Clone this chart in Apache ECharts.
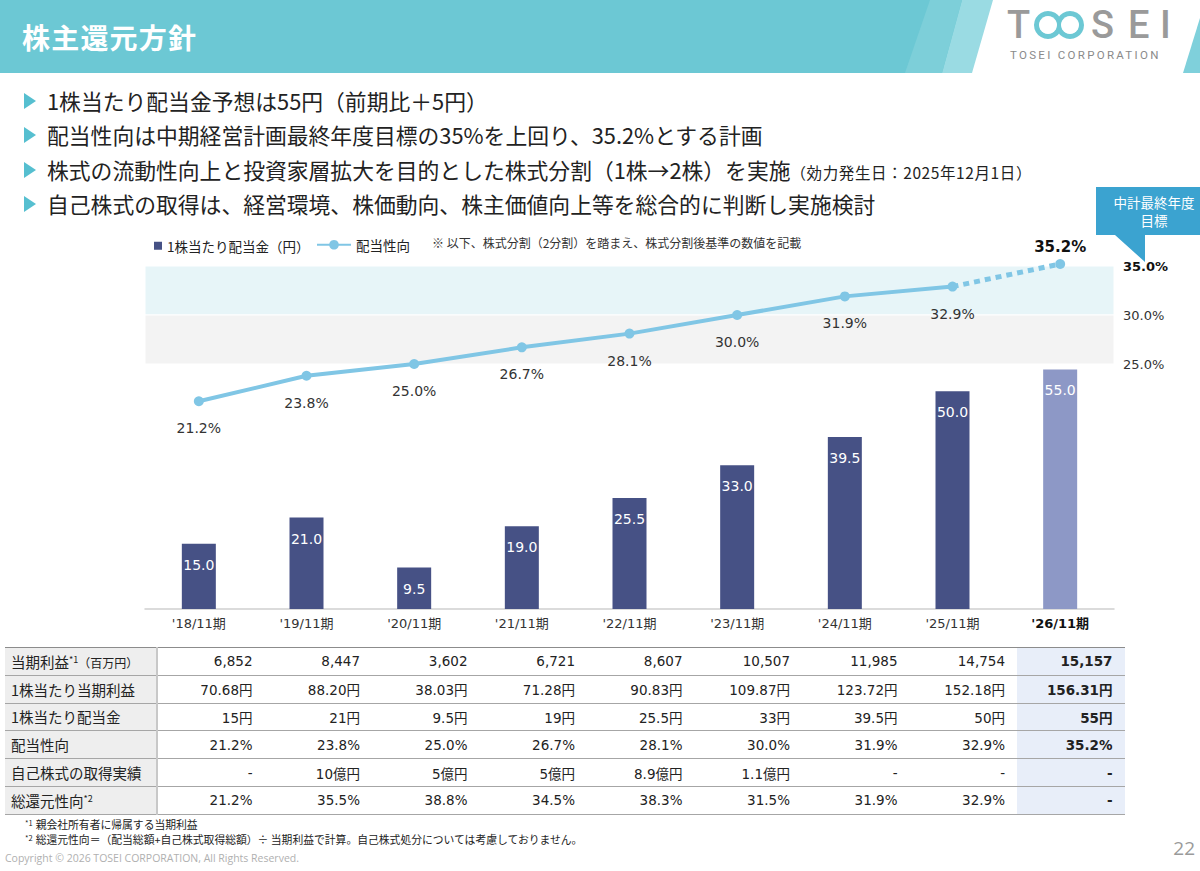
<!DOCTYPE html>
<html>
<head>
<meta charset="utf-8">
<script src="https://cdn.jsdelivr.net/npm/echarts@6/dist/echarts.min.js"></script>
<style>
  html, body { margin: 0; padding: 0; background: #fff; }
  body { width: 1200px; height: 871px; position: relative; overflow: hidden;
         font-family: 'Noto Sans CJK JP', sans-serif; color: #222; }
  #container { position: absolute; left: 0; top: 0; width: 1200px; height: 871px; z-index: 0; }
  .over { position: absolute; z-index: 1; }
  #title { left: 22px; top: 17px; font-size: 28px; font-weight: bold; color: #fff; line-height: 40px; letter-spacing: 1.2px; }
  .logo { top: 3px; line-height: normal; font-size: 38px; font-weight: 500; color: #9a9a9a; font-family: Roboto, sans-serif; }
  #corp { left: 1010px; top: 48px; font-size: 11.5px; color: #8a8a8a; letter-spacing: 2.3px; font-family: Roboto, sans-serif; line-height: normal; }
  #bullets { left: 24px; top: 84px; margin: 0; padding: 0; list-style: none; }
  #bullets li { position: relative; height: 34.3px; line-height: 34px; font-size: 21.8px; padding-left: 23px; white-space: nowrap; }
  #bullets li:before { content: ''; position: absolute; left: 0; top: 9px;
         border-left: 12px solid #56bfd0; border-top: 8px solid transparent; border-bottom: 8px solid transparent; }
  #bullets small { font-size: 15.5px; letter-spacing: 0.6px; }
  #table { left: 5px; top: 647px; border-collapse: collapse; table-layout: fixed; }
  #table td { height: 26.8px; padding: 0; border-top: 1px solid #a6a6a6; border-bottom: 1px solid #a6a6a6;
         font-family: 'DejaVu Sans', 'Noto Sans CJK JP', sans-serif; font-size: 13.5px; text-align: right;
         padding-right: 12px; white-space: nowrap; }
  #table tr:first-child td { border-top: 1.5px solid #8c8c8c; }
  #table td.lab { background: #eeeeee; text-align: left; padding-left: 6px; padding-right: 0;
         font-family: 'Noto Sans CJK JP', sans-serif; font-size: 14.5px; border-right: 2px solid #c8c8c8; }
  #table td.last { background: #e8eef9; font-weight: bold; }
  #table sup { font-size: 9px; vertical-align: 5px; line-height: 0; }
  #table .unit { font-size: 12px; }
  #notes { left: 25px; top: 817px; font-size: 10.8px; line-height: 15px; color: #222; }
  #notes sup { font-size: 7.5px; vertical-align: 3px; line-height: 0; margin-right: 3px; }
  #copy { left: 5px; top: 851px; font-size: 10.5px; color: #b0b0b0; font-family: 'Open Sans', sans-serif; }
  #page { right: 5px; top: 835px; font-size: 19px; color: #9a9a9a; font-family: 'Open Sans', sans-serif; }
</style>
</head>
<body>
<div id="container"></div>
<div id="title" class="over">株主還元方針</div>
<div class="over logo" style="left:1007px">T</div>
<div class="over logo" style="left:1091px">S</div>
<div class="over logo" style="left:1128px">E</div>
<div class="over logo" style="left:1160px">I</div>
<div id="corp" class="over">TOSEI CORPORATION</div>
<ul id="bullets" class="over">
  <li>1株当たり配当金予想は55円（前期比＋5円）</li>
  <li>配当性向は中期経営計画最終年度目標の35%を上回り、35.2%とする計画</li>
  <li>株式の流動性向上と投資家層拡大を目的とした株式分割（1株→2株）を実施<small>（効力発生日：2025年12月1日）</small></li>
  <li>自己株式の取得は、経営環境、株価動向、株主価値向上等を総合的に判断し実施検討</li>
</ul>
<table id="table" class="over"></table>
<div id="notes" class="over">
  <div><sup>*1</sup>親会社所有者に帰属する当期利益</div>
  <div><sup>*2</sup>総還元性向＝（配当総額+自己株式取得総額）÷ 当期利益で計算。自己株式処分については考慮しておりません。</div>
</div>
<div id="copy" class="over">Copyright © 2026 TOSEI CORPORATION, All Rights Reserved.</div>
<div id="page" class="over">22</div>

<script>
// chart data
var categories = ["'18/11期", "'19/11期", "'20/11期", "'21/11期", "'22/11期", "'23/11期", "'24/11期", "'25/11期", "'26/11期"];
var dividend = [15.0, 21.0, 9.5, 19.0, 25.5, 33.0, 39.5, 50.0, 55.0];
var payoutRatio = [21.2, 23.8, 25.0, 26.7, 28.1, 30.0, 31.9, 32.9, 35.2];
var pctTicks = [25, 30, 35];

// table data
var rowLabels = ['当期利益', '1株当たり当期利益', '1株当たり配当金', '配当性向', '自己株式の取得実績', '総還元性向'];
var rowNotes = ['*1', '', '', '', '', '*2'];
var rowUnits = ['（百万円）', '', '', '', '', ''];
var netIncome = ['6,852', '8,447', '3,602', '6,721', '8,607', '10,507', '11,985', '14,754', '15,157'];
var eps = ['70.68円', '88.20円', '38.03円', '71.28円', '90.83円', '109.87円', '123.72円', '152.18円', '156.31円'];
var dps = ['15円', '21円', '9.5円', '19円', '25.5円', '33円', '39.5円', '50円', '55円'];
var payoutText = ['21.2%', '23.8%', '25.0%', '26.7%', '28.1%', '30.0%', '31.9%', '32.9%', '35.2%'];
var buyback = ['-', '10億円', '5億円', '5億円', '8.9億円', '1.1億円', '-', '-', '-'];
var totalReturn = ['21.2%', '35.5%', '38.8%', '34.5%', '38.3%', '31.5%', '31.9%', '32.9%', '-'];

var NUM_FONT = "'DejaVu Sans', 'Noto Sans CJK JP', sans-serif";
var JP_FONT = "'Noto Sans CJK JP', sans-serif";
var n = categories.length;

// table
! function () {
    var rows = [netIncome, eps, dps, payoutText, buyback, totalReturn];
    var html = '<colgroup><col style="width:152px">';
    for (var c = 0; c < n; c++) html += '<col style="width:107.5px">';
    html += '</colgroup>';
    rows.forEach(function (vals, r) {
        html += '<tr><td class="lab">' + rowLabels[r] +
            (rowNotes[r] ? '<sup>' + rowNotes[r] + '</sup>' : '') +
            (rowUnits[r] ? '<span class="unit">' + rowUnits[r] + '</span>' : '') + '</td>';
        vals.forEach(function (v, i) {
            html += '<td' + (i === n - 1 ? ' class="last"' : '') + '>' + v + '</td>';
        });
        html += '</tr>';
    });
    document.getElementById('table').innerHTML = html;
}();

var chart = echarts.init(document.getElementById('container'), null, { renderer: 'svg' });

var option = {
    animation: false,
    textStyle: { fontFamily: NUM_FONT },
    grid: { left: 145, right: 86, top: 217, bottom: 262 },
    legend: [{
        data: ['1株当たり配当金（円）'],
        left: 149, top: 234,
        icon: 'rect', itemWidth: 8, itemHeight: 8,
        textStyle: { fontFamily: JP_FONT, fontSize: 13.5, color: '#222' }
    }, {
        data: ['配当性向'],
        left: 311, top: 233,
        itemWidth: 34, itemHeight: 12,
        textStyle: { fontFamily: JP_FONT, fontSize: 13.5, color: '#222' }
    }],
    xAxis: {
        type: 'category',
        data: categories,
        axisLine: { lineStyle: { color: '#cfcfcf', width: 1.5 } },
        axisTick: { show: false },
        axisLabel: {
            interval: 0, margin: 8, fontSize: 13, color: '#333',
            formatter: function (v, i) { return i === n - 1 ? '{b|' + v + '}' : v; },
            rich: { b: { fontWeight: 'bold', fontSize: 13, color: '#111' } }
        }
    },
    yAxis: [{
        type: 'value', min: 0, max: 90, show: false
    }, {
        type: 'value', position: 'right', min: 0, max: 40, interval: 5,
        axisLine: { show: false }, axisTick: { show: false }, splitLine: { show: false },
        axisLabel: {
            margin: 9, fontSize: 13, color: '#333',
            formatter: function (v) {
                if (pctTicks.indexOf(v) < 0) return '';
                var t = v.toFixed(1) + '%';
                return v === pctTicks[pctTicks.length - 1] ? '{b|' + t + '}' : t;
            },
            rich: { b: { fontWeight: 'bold', fontSize: 13, color: '#111' } }
        }
    }],
    series: [{
        name: 'bands',
        type: 'line',
        yAxisIndex: 1,
        data: [],
        z: 1,
        silent: true,
        markArea: {
            silent: true,
            data: [
                [{ yAxis: pctTicks[1], itemStyle: { color: '#e7f5f8', borderColor: '#fff', borderWidth: 1 } }, { yAxis: pctTicks[2] }],
                [{ yAxis: pctTicks[0], itemStyle: { color: '#f3f3f3', borderColor: '#fff', borderWidth: 1 } }, { yAxis: pctTicks[1] }]
            ]
        }
    }, {
        name: '1株当たり配当金（円）',
        type: 'bar',
        yAxisIndex: 0,
        barWidth: 34,
        z: 2,
        itemStyle: { color: '#465185' },
        data: dividend.map(function (v, i) {
            return i === n - 1 ? { value: v, itemStyle: { color: '#8d98c6' } } : v;
        }),
        label: {
            show: true, position: 'insideTop', distance: 14,
            color: '#fff', fontSize: 14,
            formatter: function (p) { return p.value.toFixed(1); }
        }
    }, {
        name: '配当性向',
        type: 'line',
        yAxisIndex: 1,
        z: 3,
        clip: false,
        symbol: 'circle', symbolSize: 10,
        itemStyle: { color: '#80c6e5' },
        lineStyle: { color: '#80c6e5', width: 4 },
        data: payoutRatio.map(function (v, i) { return i < n - 1 ? v : '-'; }),
        label: {
            show: true, position: 'bottom', distance: 15,
            color: '#333', fontSize: 14,
            formatter: function (p) { return p.value.toFixed(1) + '%'; }
        }
    }, {
        name: '配当性向（計画）',
        type: 'line',
        yAxisIndex: 1,
        z: 3,
        clip: false,
        symbol: 'circle',
        symbolSize: function (v, p) { return p.dataIndex === n - 1 ? 10 : 0; },
        itemStyle: { color: '#80c6e5' },
        lineStyle: { color: '#80c6e5', width: 5, type: [6, 5] },
        data: payoutRatio.map(function (v, i) { return i >= n - 2 ? v : '-'; }),
        label: {
            show: true, position: 'top', distance: 5,
            color: '#111', fontSize: 15, fontWeight: 'bold',
            formatter: function (p) { return p.dataIndex === n - 1 ? p.value.toFixed(1) + '%' : ''; }
        }
    }],
    graphic: [
        // header band
        { type: 'polygon', silent: true, shape: { points: [[0, 0], [993, 0], [972, 73], [0, 73]] }, style: { fill: '#9adbe3' } },
        { type: 'polygon', silent: true, shape: { points: [[0, 0], [962, 0], [942, 73], [0, 73]] }, style: { fill: '#6cc8d4' } },
        { type: 'polygon', silent: true, shape: { points: [[930, 0], [962, 0], [942, 73], [905, 73]] }, style: { fill: '#7dcfd9' } },
        { type: 'polygon', silent: true, shape: { points: [[1200, 18], [1200, 73], [1183, 73]] }, style: { fill: '#7fd0db' } },
        // logo ring
        { type: 'circle', shape: { cx: 1048, cy: 25, r: 14 }, style: { fill: '#6cc8d4' } },
        { type: 'circle', shape: { cx: 1070, cy: 25, r: 14 }, style: { fill: '#6cc8d4' } },
        { type: 'circle', shape: { cx: 1048, cy: 25, r: 9 }, style: { fill: '#fff' } },
        { type: 'circle', shape: { cx: 1070, cy: 25, r: 9 }, style: { fill: '#fff' } },
        // note beside legend
        { type: 'text', left: 432, top: 236, style: { text: '※ 以下、株式分割（2分割）を踏まえ、株式分割後基準の数値を記載', fontSize: 12, fill: '#333', fontFamily: JP_FONT } },
        // callout
        { type: 'polygon', silent: true, shape: { points: [[1096, 187], [1200, 187], [1200, 235], [1145, 235], [1145, 262], [1115, 235], [1096, 235]] }, style: { fill: '#3ba3d0' } },
        { type: 'text', x: 1154, y: 202, style: { text: '中計最終年度', fontSize: 13.5, fill: '#fff', fontFamily: JP_FONT, align: 'center', verticalAlign: 'middle' } },
        { type: 'text', x: 1154, y: 220, style: { text: '目標', fontSize: 13.5, fill: '#fff', fontFamily: JP_FONT, align: 'center', verticalAlign: 'middle' } }
    ]
};

chart.setOption(option);
</script>
</body>
</html>
